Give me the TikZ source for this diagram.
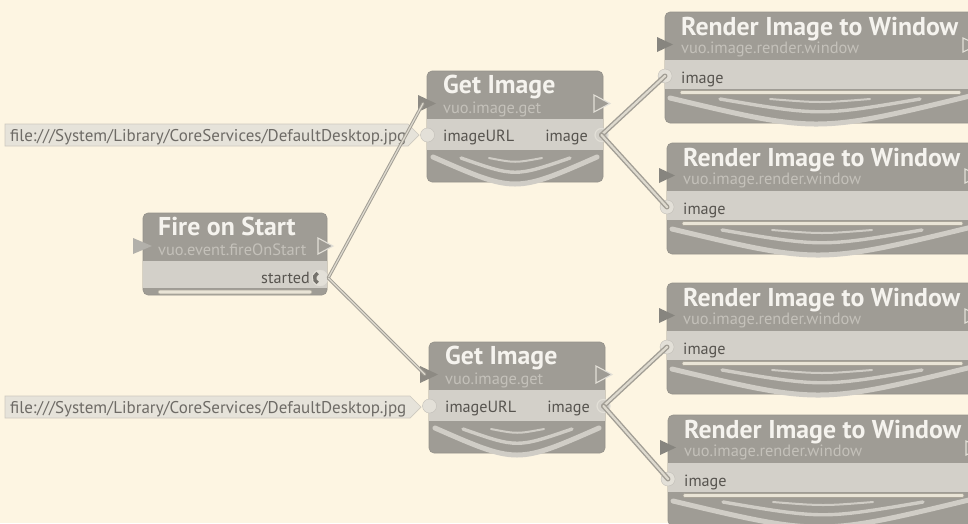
\documentclass[tikz,border=0pt]{standalone}
\usepackage{fontspec}
\setmainfont{PT Sans}
\definecolor{bgc}{HTML}{FDF5E2}
\definecolor{hdrc}{HTML}{9F9C95}
\definecolor{bordc}{HTML}{95928B}
\definecolor{bodyc}{HTML}{D3D0C9}
\definecolor{ttlc}{HTML}{F5F3EE}
\definecolor{subc}{HTML}{C4C1BA}
\definecolor{lblc}{HTML}{57544F}
\definecolor{arcc}{HTML}{D0CDC6}
\definecolor{cabo}{HTML}{A29E95}
\definecolor{cabi}{HTML}{DEDACF}
\definecolor{cstc}{HTML}{E6E3DA}
\definecolor{cstb}{HTML}{CDC9BF}
\definecolor{csttxt}{HTML}{6E6B66}
\definecolor{trigc}{HTML}{8D8A83}
\definecolor{hollowc}{HTML}{E2DFD7}
\definecolor{portc}{HTML}{E3E0D8}
\definecolor{barc}{HTML}{E9E4D6}
\definecolor{barb}{HTML}{A9A498}
\definecolor{trigport}{HTML}{75726C}
\tikzset{
  ttl/.style={anchor=base west, inner sep=0pt, text=ttlc, font=\bfseries\fontsize{25.8}{26}\selectfont},
  subt/.style={anchor=base west, inner sep=0pt, text=subc, font=\fontsize{16.4}{17}\selectfont},
  plbl/.style={inner sep=0pt, text=lblc, font=\fontsize{16.2}{17}\selectfont},
  csttext/.style={anchor=base west, inner sep=0pt, text=csttxt, font=\fontsize{17}{17}\selectfont},
  nodebody/.style={fill=hdrc, draw=bordc, line width=0.6pt, rounded corners=5pt},
  inport/.style={circle, fill=portc, draw=portc!85!black, line width=0.4pt, minimum size=14pt, inner sep=0pt},
  outport/.style={circle, fill=bodyc, draw=hollowc, line width=1.2pt, minimum size=13pt, inner sep=0pt},
  evcab/.style={draw=cabo, line width=3.2pt, line cap=round, postaction={draw=cabi, line width=1.2pt}},
  datacab/.style={draw=cabo, line width=5pt, line cap=round, postaction={draw=cabi, line width=2.2pt}},
  drawer/.style={draw=arcc, line cap=round},
  barstyle/.style={fill=barc, draw=barb, line width=0.6pt, rounded corners=2pt},
  hollowtri/.style={draw=hollowc, line width=1.1pt, fill=hdrc, line join=miter},
}
\newcommand\getimagenode[3]{%
\begin{scope}[shift={(#2,#3)}]
  \filldraw[nodebody] (0,0) rectangle (176,111);
  \fill[bodyc] (0.3,48) rectangle (175.7,79);
  \draw[drawer, line width=5pt] (6,86) .. controls (88,122) .. (170,86);
  \draw[drawer, line width=3.4pt] (34,87) .. controls (88,106) .. (143,87);
  \draw[drawer, line width=2pt] (62,87) .. controls (88,92) .. (115,87);
  \fill[trigc] (-9,24) -- (9,32.5) -- (-9,41) -- cycle;
  \draw[hollowtri] (167,24) -- (183,32.5) -- (167,41) -- cycle;
  \node[ttl] (#1t) at (16,22) {Get Image};
  \node[subt] (#1s) at (16,42) {vuo.image.get};
  \node[plbl, anchor=base west] (#1u) at (16,70) {imageURL};
  \node[plbl, anchor=base east] (#1o) at (161,70) {image};
  \node[inport] (#1in) at (0.5,64) {};
  \node[outport] (#1out) at (174.5,64) {};
  \coordinate (#1trig) at (-4,32.5);
\end{scope}}
\newcommand\rendernode[3]{%
\begin{scope}[shift={(#2,#3)}]
  \filldraw[nodebody] (0,0) rectangle (330,111);
  \fill[bodyc] (0.3,48) rectangle (329,77);
  \draw[barstyle] (15,78.5) rectangle (296,82.5);
  \draw[drawer, line width=5pt] (5,86) .. controls (152,121) .. (305,84);
  \draw[drawer, line width=3.4pt] (55,87) .. controls (155,104) .. (255,87);
  \draw[drawer, line width=2pt] (105,87) .. controls (155,91) .. (205,87);
  \fill[hdrc!85!black] (-8,25) -- (8,32.5) -- (-8,40) -- cycle;
  \draw[hollowtri] (298,26) -- (313,33) -- (298,40) -- cycle;
  \node[ttl] (#1t) at (16,23) {Render Image to Window};
  \node[subt] (#1s) at (16,41) {vuo.image.render.window};
  \node[plbl, anchor=base west] (#1l) at (16,71) {image};
  \node[inport] (#1in) at (0,64) {};
\end{scope}}
\begin{document}
\begin{tikzpicture}[x=1pt, y=-1pt]
\useasboundingbox (0,0) rectangle (968,523);
\fill[bgc] (0,0) rectangle (968,523);
\clip (0,0) rectangle (968,523);

% constant inputs
\filldraw[fill=cstc, draw=cstb, line width=0.7pt] (5,124) -- (408,124) -- (419,135) -- (408,146) -- (5,146) -- cycle;
\node[csttext] (c1) at (10,141) {file:///System/Library/CoreServices/DefaultDesktop.jpg};
\filldraw[fill=cstc, draw=cstb, line width=0.7pt] (5,396) -- (410,396) -- (421,407) -- (410,418) -- (5,418) -- cycle;
\node[csttext] (c2) at (10,413) {file:///System/Library/CoreServices/DefaultDesktop.jpg};

% Fire on Start
\begin{scope}[shift={(143,213)}]
  \filldraw[nodebody] (0,0) rectangle (184,82);
  \fill[bodyc] (0.3,48) rectangle (183.7,75);
  \draw[barstyle] (15,77) rectangle (169,81);
  \fill[hdrc!80!white] (-10,25) -- (9,33) -- (-10,41) -- cycle;
  \draw[hollowtri] (175,25) -- (190,33) -- (175,41) -- cycle;
  \node[ttl] (ft) at (15,22) {Fire on Start};
  \node[subt] (fs) at (15,42) {vuo.event.fireOnStart};
  \node[plbl, anchor=base east] (fl) at (167,70) {started};
  \node[circle, fill=portc, draw=hollowc, minimum size=16pt, inner sep=0pt] (fstart) at (177,65) {};
  \draw[trigport, line width=3.4pt] ([xshift=-2.32pt, yshift=4.98pt]fstart.center) arc[start angle=115, end angle=245, radius=5.5pt];
\end{scope}

\getimagenode{ga}{427}{71}
\getimagenode{gb}{429}{342}

\rendernode{ra}{665}{12}
\rendernode{rb}{667}{143}
\rendernode{rc}{667}{283}
\rendernode{rd}{668}{415}

% cables
\draw[evcab] (fstart.east) -- (gatrig);
\draw[evcab] (fstart.east) -- (gbtrig);
\draw[datacab] (gaout.center) -- (rain.center);
\draw[datacab] (gaout.center) -- (rbin.center);
\draw[datacab] (gbout.center) -- (rcin.center);
\draw[datacab] (gbout.center) -- (rdin.center);
\end{tikzpicture}
\end{document}
